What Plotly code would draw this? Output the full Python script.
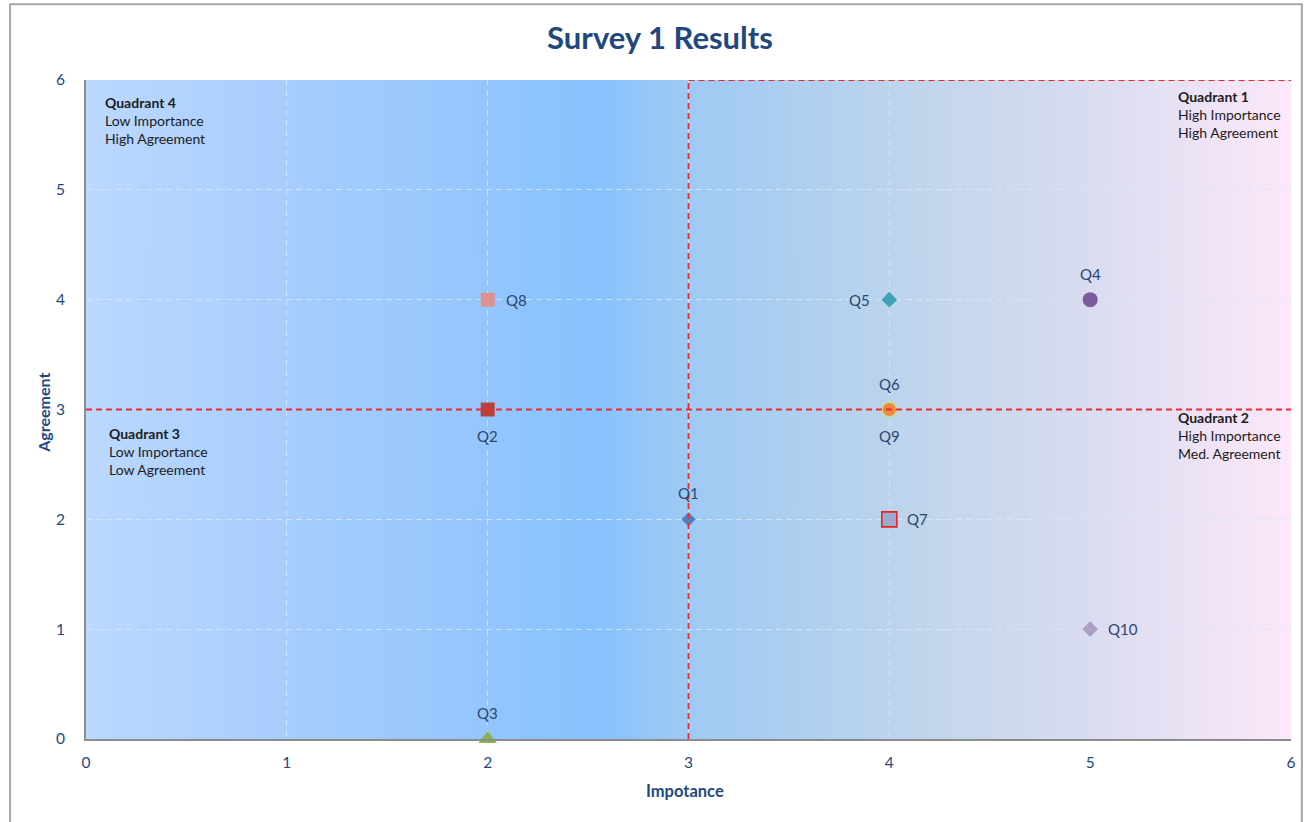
import base64
import plotly.graph_objects as go

# Survey questions: importance (x) vs agreement (y)
questions = ["Q1", "Q2", "Q3", "Q4", "Q5", "Q9", "Q6", "Q7", "Q8", "Q10"]
importance = [3, 2, 2, 5, 4, 4, 4, 4, 2, 5]
agreement = [2, 3, 0, 4, 4, 3, 3, 2, 4, 1]

# Marker styling per question
symbols = ["diamond", "square", "triangle-up", "circle", "diamond",
           "circle", "circle", "square", "square", "diamond"]
colors = ["#4f81bd", "#b9413d", "#8fb04e", "#7a5c9c", "#3fa3b5",
          "#c9d98f", "#f0873f", "#9aaad0", "#dc9390", "#ad9fc6"]
sizes = [11, 14, 16, 15, 12, 16, 13, 15, 14, 12]
border_colors = [None, None, None, None, None, None, None, "#e52222", None, None]
label_side = ["top", "bottom", "top", "top", "left",
              "bottom", "top", "right", "right", "right"]

tick_vals = [0, 1, 2, 3, 4, 5, 6]

FONT = "Lato, 'Open Sans', sans-serif"
NAVY = "#1f497d"
LABEL = "#2d4670"

# Horizontal background gradient for the plot area
grad_stops = [(0.0, "#bcd8fe"), (0.17, "#a6cdfd"), (0.33, "#94c6fd"),
              (0.42, "#86c2fe"), (0.5, "#9ecaf4"), (0.67, "#bcd4ec"),
              (0.83, "#d9dcf0"), (1.0, "#fce8f8")]
stops_svg = "".join(
    f'<stop offset="{o}" stop-color="{c}"/>' for o, c in grad_stops)
svg = (
    '<svg xmlns="http://www.w3.org/2000/svg" width="1000" height="100" '
    'viewBox="0 0 1000 100" preserveAspectRatio="none">'
    f'<defs><linearGradient id="g" x1="0" y1="0" x2="1" y2="0">{stops_svg}'
    '</linearGradient></defs><rect width="1000" height="100" fill="url(#g)"/></svg>'
)
svg_uri = "data:image/svg+xml;base64," + base64.b64encode(svg.encode()).decode()

fig = go.Figure()

for i, q in enumerate(questions):
    line = dict(width=0)
    if border_colors[i]:
        line = dict(width=1.6, color=border_colors[i])
    fig.add_trace(go.Scatter(
        x=[importance[i]], y=[agreement[i]], mode="markers", name=q,
        marker=dict(symbol=symbols[i], size=sizes[i], color=colors[i], line=line),
        cliponaxis=False, showlegend=False,
    ))

# offsets of the point labels relative to their markers
side_offsets = {
    "top": dict(xanchor="center", yanchor="middle", xshift=0, yshift=26),
    "bottom": dict(xanchor="center", yanchor="middle", xshift=0, yshift=-26),
    "right": dict(xanchor="left", yanchor="middle", xshift=16, yshift=0),
    "left": dict(xanchor="right", yanchor="middle", xshift=-17, yshift=0),
}

annotations = []
for i, q in enumerate(questions):
    annotations.append(dict(
        x=importance[i], y=agreement[i], xref="x", yref="y", text=q,
        showarrow=False, font=dict(family=FONT, size=15, color=LABEL),
        **side_offsets[label_side[i]],
    ))

red = dict(color="#ec2b30", width=1.8, dash="6px,4px")
light = dict(color="rgba(175,205,245,0.95)", width=1.2, dash="6px,4px")
shapes = [
    # plot-area top and right edges
    dict(type="line", xref="x", yref="y", x0=0, x1=6, y0=6, y1=6, line=light, layer="below"),
    dict(type="line", xref="x", yref="y", x0=6, x1=6, y0=0, y1=6, line=light, layer="below"),
    # quadrant dividers
    dict(type="line", xref="x", yref="y", x0=0, x1=6, y0=3, y1=3, line=red, layer="above"),
    dict(type="line", xref="x", yref="y", x0=3, x1=3, y0=0, y1=6, line=red, layer="above"),
    # quadrant 1 outline
    dict(type="line", xref="x", yref="y", x0=3, x1=6.01, y0=6, y1=6, line=red, layer="above"),
    dict(type="line", xref="x", yref="y", x0=6.01, x1=6.01, y0=3, y1=6, line=red, layer="above"),
    # chart border
    dict(type="rect", xref="paper", yref="paper", x0=-0.063, x1=1.009, y0=-0.14, y1=1.115,
         line=dict(color="#a6a6a6", width=2), layer="below"),
]

quad_notes = [
    (0.084, 5.895, "Quadrant 4", ["Low Importance", "High Agreement"]),
    (5.425, 5.945, "Quadrant 1", ["High Importance", "High Agreement"]),
    (0.104, 2.875, "Quadrant 3", ["Low Importance", "Low Agreement"]),
    (5.425, 3.02, "Quadrant 2", ["High Importance", "Med. Agreement"]),
]
for qx, qy, head, lines in quad_notes:
    annotations.append(dict(
        x=qx, y=qy, xref="x", yref="y", xanchor="left", yanchor="top",
        align="left", showarrow=False,
        text=f"<b>{head}</b><br>" + "<br>".join(lines),
        font=dict(family=FONT, size=14, color="#1c1c1c"),
    ))
annotations += [
    dict(x=0.4975, y=-0.079, xref="paper", yref="paper", showarrow=False,
         xanchor="center", yanchor="middle",
         text="<b>Impotance</b>", font=dict(family=FONT, size=16.5, color=NAVY)),
    dict(x=-0.0348, y=0.495, xref="paper", yref="paper", showarrow=False,
         xanchor="center", yanchor="middle",
         textangle=-90, text="<b>Agreement</b>",
         font=dict(family=FONT, size=16, color=NAVY)),
]

axis_common = dict(
    range=[0, 6], tickvals=tick_vals, showgrid=True,
    gridcolor="rgba(215,230,250,0.85)", griddash="6px,4px", gridwidth=1,
    zeroline=False, showline=True, linecolor="#8c8c8c", linewidth=2,
    tickfont=dict(family=FONT, size=15.5, color=NAVY), fixedrange=True,
)

fig.update_layout(
    width=1308, height=822,
    margin=dict(l=86, r=14, t=80, b=83),
    paper_bgcolor="white", plot_bgcolor="white",
    title=dict(text="<b>Survey 1 Results</b>", x=0.5046, xanchor="center",
               y=0.953, yanchor="middle",
               font=dict(family=FONT, size=31, color=NAVY)),
    xaxis=dict(**axis_common, ticklabelstandoff=8),
    yaxis=dict(**axis_common, ticklabelstandoff=16),
    shapes=shapes, annotations=annotations,
    images=[dict(source=svg_uri, xref="x", yref="y", x=0, y=6, sizex=6, sizey=6,
                 sizing="stretch", layer="below", xanchor="left", yanchor="top")],
)

fig.write_html("out.html")
